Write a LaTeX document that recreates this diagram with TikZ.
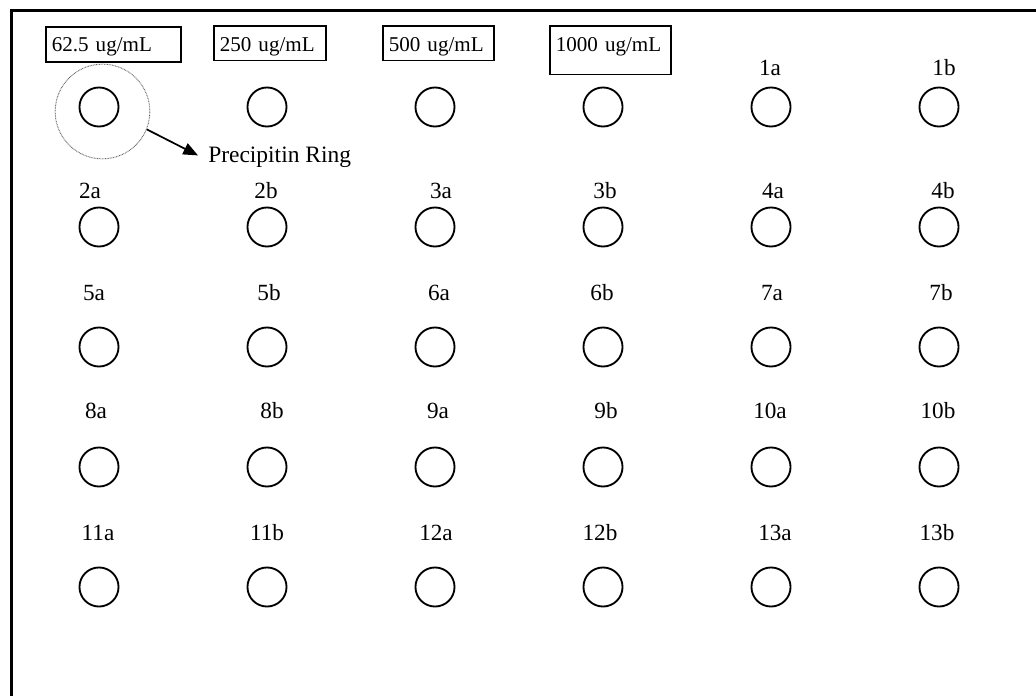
\documentclass[tikz,border=0pt]{standalone}
\usepackage{fontspec}
\setmainfont{Liberation Serif}
\usetikzlibrary{arrows.meta}
\begin{document}
\begin{tikzpicture}[x=0.75pt,y=-0.75pt,
  well/.style={circle,draw=black,line width=1.4pt,minimum size=29.3pt,inner sep=0pt},
  lbl/.style={anchor=base,inner sep=0pt,font=\fontsize{17.4pt}{20pt}\selectfont},
  conc/.style={draw=black,line width=1.3pt,anchor=north west,inner xsep=4.5pt,inner ysep=0pt,
    align=left,font=\fontsize{15.8pt}{18pt}\selectfont},
  ringstyle/.style={circle,draw=black!60,dash pattern=on 0.6pt off 0.6pt,line width=0.7pt,minimum size=71pt,inner sep=0pt},
  ptr/.style={line width=1.3pt,-{Triangle[length=11pt,width=9pt]}}]
\clip (0,0) rectangle (1036,696);
\fill[white] (0,0) rectangle (1036,696);
% frame (left and top edges)
\draw[line width=1.8pt] (11.3,700) -- (11.3,10.5) -- (1040,10.5);
% concentration boxes
\node[conc,text width=92.25pt,text height=18.5pt,text depth=8pt] (c1) at (45,26) {62.5 ug/mL};
\node[conc,text width=75pt,text height=19.5pt,text depth=6.5pt] (c2) at (213,25) {250 ug/mL};
\node[conc,text width=74.25pt,text height=19.5pt,text depth=6.5pt] (c3) at (382,25) {500 ug/mL};
\node[conc,text width=81.75pt,text height=19.5pt,text depth=17pt] (c4) at (549,25) {1000 ug/mL};
% wells
\foreach \r/\yy in {1/107,2/227,3/347,4/467,5/587}{
  \foreach \c/\xx in {1/99,2/267,3/435,4/603,5/771,6/939}{
    \node[well] (w-\r-\c) at (\xx,\yy) {};
  }
}
% labels
\node[lbl] (l1a) at (770,75) {1a};
\node[lbl] (l1b) at (944,75) {1b};
\foreach \t/\xx in {2a/90,2b/266,3a/441,3b/605,4a/773,4b/943}{
  \node[lbl] (l\t) at (\xx,198) {\t};
}
\foreach \t/\xx in {5a/94,5b/269,6a/439,6b/602,7a/772,7b/941}{
  \node[lbl] (l\t) at (\xx,300) {\t};
}
\foreach \t/\xx in {8a/96,8b/272,9a/438,9b/606,10a/770,10b/938}{
  \node[lbl] (l\t) at (\xx,418) {\t};
}
\foreach \t/\xx in {11a/98,11b/267,12a/436,12b/600,13a/775,13b/937}{
  \node[lbl] (l\t) at (\xx,540) {\t};
}
% precipitin ring
\node[ringstyle] (ring) at (102.5,111.5) {};
\node[anchor=base west,inner sep=0pt,font=\fontsize{17.6pt}{20pt}\selectfont] (prec) at (208,162) {Precipitin Ring};
\draw[ptr] (ring.-22) -- ([xshift=-7.5pt,yshift=1pt]prec.west);
\end{tikzpicture}
\end{document}
